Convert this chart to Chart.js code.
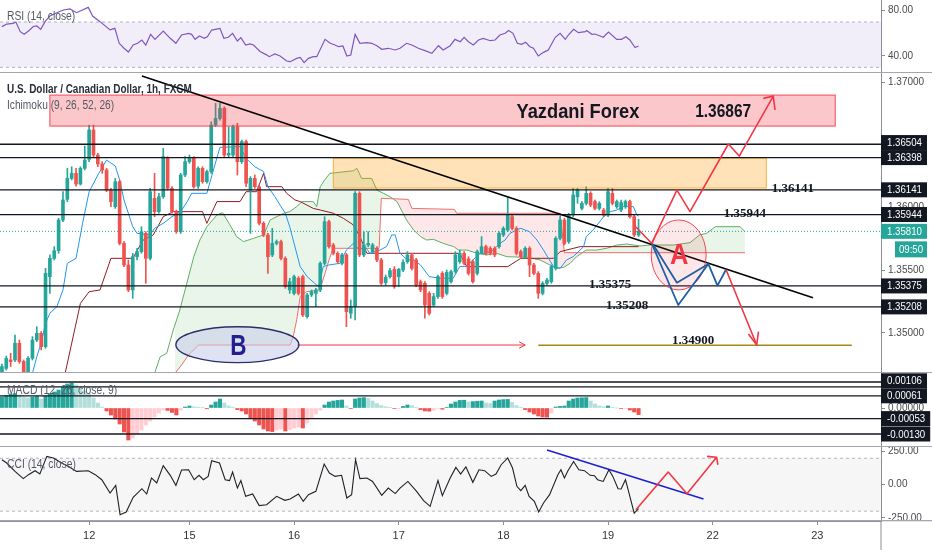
<!DOCTYPE html>
<html>
<head>
<meta charset="utf-8">
<title>USDCAD 1h</title>
<script src="https://cdn.jsdelivr.net/npm/chart.js@4.4.1/dist/chart.umd.min.js"></script>
<style>
  html, body { margin: 0; padding: 0; background: #ffffff; }
  #wrap { position: relative; width: 932px; height: 550px; overflow: hidden; }
  #wrap canvas { position: absolute; left: 0; }
</style>
</head>
<body>
<div id="wrap">
  <canvas id="rsiChart" width="932" height="73" style="top:0px"></canvas>
  <canvas id="mainChart" width="932" height="300" style="top:73px"></canvas>
  <canvas id="macdChart" width="932" height="74" style="top:373px"></canvas>
  <canvas id="cciChart" width="932" height="103" style="top:447px"></canvas>
</div>
<script>
// time axis: candle index of each day start
const dayIdx = [20, 43, 67, 91, 115, 139, 163, 187];
const dayLabels = ['12', '15', '16', '17', '18', '19', '22', '23'];

// right axis ticks per pane
const rsiTicks = [40, 80];
const priceTicks = [1.35, 1.355, 1.36, 1.365, 1.37];
const macdTicks = [0];
const cciTicks = [-250, 0, 250];

// 1h candles
const opens = [
  1.34692, 1.34718, 1.34785, 1.34785, 1.34918, 1.34772, 1.34692, 1.34798, 1.34944, 1.34997,
  1.34891, 1.35449, 1.35595, 1.35656, 1.35900, 1.36065, 1.36232, 1.36272, 1.36187, 1.36312,
  1.36384, 1.36618, 1.36418, 1.36347, 1.36299, 1.36139, 1.36007, 1.36206, 1.35714, 1.35542,
  1.35343, 1.35608, 1.35648, 1.35794, 1.35595, 1.36073, 1.35967, 1.36086, 1.36392, 1.36153,
  1.35967, 1.35807, 1.36259, 1.36365, 1.36392, 1.36171, 1.36312, 1.36206, 1.36286, 1.36657,
  1.36710, 1.36790, 1.36418, 1.36418, 1.36644, 1.36365, 1.36525, 1.36139, 1.36232, 1.36166,
  1.35874, 1.35781, 1.35622, 1.35714, 1.35728, 1.35595, 1.35343, 1.35316, 1.35436, 1.35449,
  1.35130, 1.35303, 1.35316, 1.35343, 1.35555, 1.35887, 1.35701, 1.35635, 1.35555, 1.35622,
  1.35157, 1.35210, 1.36113, 1.35622, 1.35701, 1.35648, 1.35675, 1.35582, 1.35401, 1.35449,
  1.35507, 1.35449, 1.35502, 1.35568, 1.35622, 1.35582, 1.35409, 1.35396, 1.35316, 1.35223,
  1.35290, 1.35475, 1.35316, 1.35409, 1.35489, 1.35568, 1.35635, 1.35590, 1.35568, 1.35475,
  1.35640, 1.35688, 1.35675, 1.35675, 1.35688, 1.35781, 1.35821, 1.35927, 1.35834, 1.35648,
  1.35608, 1.35675, 1.35542, 1.35475, 1.35316, 1.35396, 1.35409, 1.35515, 1.35754, 1.35900,
  1.35728, 1.35940, 1.36086, 1.35993, 1.36033, 1.36113, 1.36047, 1.35993, 1.35980, 1.35940,
  1.36113, 1.36007, 1.35980, 1.36007, 1.36047, 1.35927, 1.35781
];
const highs = [
  1.34753, 1.34817, 1.34838, 1.34984, 1.34944, 1.34785, 1.34811, 1.34971, 1.35050, 1.35011,
  1.35515, 1.35622, 1.35688, 1.35914, 1.36126, 1.36312, 1.36325, 1.36312, 1.36325, 1.36490,
  1.36657, 1.36657, 1.36432, 1.36365, 1.36312, 1.36153, 1.36232, 1.36219, 1.35728, 1.35582,
  1.35635, 1.35675, 1.35847, 1.35807, 1.36153, 1.36272, 1.36113, 1.36471, 1.36405, 1.36166,
  1.35980, 1.36272, 1.36405, 1.36418, 1.36405, 1.36325, 1.36325, 1.36299, 1.36684, 1.36830,
  1.36830, 1.36803, 1.36644, 1.36657, 1.36671, 1.36538, 1.36538, 1.36246, 1.36259, 1.36179,
  1.35887, 1.35794, 1.35834, 1.35741, 1.35741, 1.35608, 1.35436, 1.35462, 1.35449, 1.35462,
  1.35316, 1.35343, 1.35356, 1.35568, 1.35927, 1.35900, 1.35714, 1.35648, 1.35635, 1.35635,
  1.35263, 1.36126, 1.36126, 1.35807, 1.35807, 1.35714, 1.35688, 1.35595, 1.35462, 1.35515,
  1.35529, 1.35515, 1.35582, 1.35648, 1.35635, 1.35595, 1.35422, 1.35409, 1.35329, 1.35316,
  1.35462, 1.35489, 1.35502, 1.35502, 1.35648, 1.35661, 1.35648, 1.35608, 1.35582, 1.35661,
  1.35768, 1.35701, 1.35688, 1.35688, 1.35807, 1.35847, 1.36086, 1.35940, 1.35847, 1.35661,
  1.35688, 1.35688, 1.35555, 1.35489, 1.35409, 1.35436, 1.35542, 1.35768, 1.35927, 1.35914,
  1.35954, 1.36153, 1.36153, 1.36047, 1.36166, 1.36126, 1.36060, 1.36047, 1.35993, 1.36153,
  1.36153, 1.36060, 1.36060, 1.36060, 1.36060, 1.35940, 1.35906
];
const lows = [
  1.34679, 1.34705, 1.34732, 1.34772, 1.34758, 1.34679, 1.34679, 1.34785, 1.34931, 1.34865,
  1.34878, 1.35316, 1.35582, 1.35635, 1.35887, 1.36047, 1.36219, 1.36171, 1.36179, 1.36299,
  1.36365, 1.36405, 1.36325, 1.36272, 1.36126, 1.36007, 1.35993, 1.35701, 1.35529, 1.35329,
  1.35276, 1.35582, 1.35635, 1.35396, 1.35582, 1.35927, 1.35954, 1.36073, 1.36139, 1.35954,
  1.35794, 1.35794, 1.36246, 1.36352, 1.36153, 1.36153, 1.36193, 1.36193, 1.36272, 1.36644,
  1.36697, 1.36405, 1.36405, 1.36405, 1.36259, 1.36352, 1.36166, 1.35794, 1.36153, 1.35861,
  1.35768, 1.35475, 1.35608, 1.35701, 1.35582, 1.35356, 1.35316, 1.35303, 1.35303, 1.35130,
  1.35117, 1.35290, 1.35210, 1.35329, 1.35542, 1.35675, 1.35622, 1.35555, 1.35542, 1.35050,
  1.35117, 1.35104, 1.35608, 1.35608, 1.35688, 1.35635, 1.35568, 1.35382, 1.35382, 1.35436,
  1.35356, 1.35369, 1.35489, 1.35555, 1.35502, 1.35369, 1.35329, 1.35117, 1.35143, 1.35210,
  1.35276, 1.35276, 1.35303, 1.35396, 1.35475, 1.35555, 1.35542, 1.35462, 1.35396, 1.35462,
  1.35630, 1.35622, 1.35622, 1.35608, 1.35675, 1.35768, 1.35807, 1.35821, 1.35622, 1.35595,
  1.35595, 1.35449, 1.35462, 1.35276, 1.35303, 1.35382, 1.35396, 1.35502, 1.35741, 1.35701,
  1.35714, 1.35927, 1.36033, 1.35980, 1.36020, 1.36007, 1.35980, 1.35980, 1.35927, 1.35927,
  1.36020, 1.35993, 1.35967, 1.35993, 1.35914, 1.35768, 1.35768
];
const closes = [
  1.34732, 1.34798, 1.34772, 1.34918, 1.34772, 1.34692, 1.34798, 1.34944, 1.34997, 1.34891,
  1.35475, 1.35595, 1.35656, 1.35900, 1.36060, 1.36232, 1.36272, 1.36187, 1.36312, 1.36378,
  1.36618, 1.36418, 1.36347, 1.36299, 1.36139, 1.36047, 1.36206, 1.35714, 1.35542, 1.35343,
  1.35608, 1.35648, 1.35807, 1.35595, 1.36126, 1.35967, 1.36086, 1.36405, 1.36153, 1.35967,
  1.35807, 1.36259, 1.36365, 1.36392, 1.36166, 1.36312, 1.36206, 1.36286, 1.36657, 1.36710,
  1.36790, 1.36418, 1.36432, 1.36644, 1.36365, 1.36525, 1.36193, 1.36232, 1.36166, 1.35874,
  1.35781, 1.35608, 1.35714, 1.35728, 1.35595, 1.35369, 1.35409, 1.35449, 1.35316, 1.35143,
  1.35303, 1.35329, 1.35343, 1.35555, 1.35887, 1.35688, 1.35635, 1.35568, 1.35622, 1.35170,
  1.35210, 1.36113, 1.35622, 1.35701, 1.35714, 1.35701, 1.35582, 1.35396, 1.35444, 1.35497,
  1.35369, 1.35507, 1.35563, 1.35622, 1.35515, 1.35382, 1.35343, 1.35223, 1.35157, 1.35290,
  1.35449, 1.35290, 1.35483, 1.35489, 1.35622, 1.35635, 1.35555, 1.35475, 1.35409, 1.35648,
  1.35688, 1.35635, 1.35635, 1.35622, 1.35794, 1.35834, 1.35940, 1.35834, 1.35635, 1.35608,
  1.35675, 1.35542, 1.35475, 1.35316, 1.35396, 1.35422, 1.35529, 1.35754, 1.35900, 1.35714,
  1.35940, 1.36100, 1.36139, 1.36033, 1.36113, 1.36020, 1.35993, 1.36033, 1.35940, 1.36126,
  1.36033, 1.36047, 1.36039, 1.36047, 1.35927, 1.35781, 1.35810
];

// Ichimoku (9, 26, 52, 26) as [candle index, price]
const tenkanPts = [
  [7, 1.34679], [8, 1.34811], [9, 1.34918], [10, 1.35077], [11, 1.35157], [12.6, 1.35210], [14, 1.35343],
  [15, 1.35555], [17, 1.35595], [18.5, 1.35874], [20, 1.36126], [22, 1.36259], [24, 1.36378], [26, 1.36331],
  [27, 1.36219], [28, 1.36060], [30, 1.35847], [31, 1.35794], [34, 1.35781], [35, 1.35834], [37, 1.35874],
  [39, 1.35927], [41, 1.35967], [42.5, 1.36047], [43.5, 1.36113], [47, 1.36113], [48.5, 1.36299], [50, 1.36479],
  [54.6, 1.36485], [56, 1.36392], [58, 1.36325], [60, 1.36286], [61, 1.36166], [62.6, 1.36086], [64, 1.36007],
  [65, 1.35954], [66, 1.35847], [67, 1.35714], [68.4, 1.35529], [70, 1.35449], [72.6, 1.35369], [73.7, 1.35529],
  [75, 1.35542], [77.5, 1.35555], [79, 1.35661], [80.6, 1.35714], [82, 1.35661], [83.3, 1.35688], [84.4, 1.35635],
  [86.7, 1.35661], [88.2, 1.35688], [89.4, 1.35781], [90.2, 1.35781], [91.3, 1.35635], [93, 1.35582], [94.4, 1.35582],
  [96, 1.35542], [98, 1.35449], [100.5, 1.35436], [103.5, 1.35436], [105, 1.35529], [106.6, 1.35529], [108, 1.35582],
  [109.7, 1.35635], [111.2, 1.35635], [112.7, 1.35661], [114.2, 1.35714], [115.4, 1.35741], [116.5, 1.35794],
  [118, 1.35821], [119, 1.35834], [121, 1.35807], [122.7, 1.35741], [124.2, 1.35661], [126.5, 1.35529], [128, 1.35515],
  [129.5, 1.35582], [131, 1.35608], [133.4, 1.35688], [134, 1.35768], [135.6, 1.35821], [138, 1.35927], [139.5, 1.35967],
  [141, 1.35980], [142.5, 1.36007], [144.8, 1.36007], [145.6, 1.35940], [146, 1.35932]
];
const kijunPts = [
  [14.5, 1.34679], [18, 1.35236], [20, 1.35329], [22.5, 1.35343], [25, 1.35595], [30, 1.35595], [32.4, 1.35741],
  [34.7, 1.35781], [37, 1.35927], [39.3, 1.35967], [46, 1.35967], [47, 1.35874], [49.3, 1.36047], [54.6, 1.36047],
  [56, 1.36126], [58.4, 1.36126], [60, 1.36272], [60.7, 1.36166], [64.2, 1.36166], [65.3, 1.36113], [67.2, 1.36060],
  [68.4, 1.36047], [71.4, 1.35993], [73, 1.35980], [76, 1.35954], [78.3, 1.35914], [80.6, 1.35861], [82.1, 1.35768],
  [83.7, 1.35635], [105, 1.35635], [106.6, 1.35529], [116, 1.35529], [119, 1.35595], [126.5, 1.35595], [128, 1.35648],
  [132.6, 1.35688], [146, 1.35688]
];
const spanAPts = [
  [34.5, 1.34626], [36.3, 1.34811], [37.8, 1.34838], [39.3, 1.35024], [40.8, 1.35183], [42.4, 1.35396], [44, 1.35608],
  [45.4, 1.35741], [47, 1.35847], [49.3, 1.35940], [50.6, 1.35959], [52.3, 1.35861], [53.8, 1.35768], [55.4, 1.35728],
  [57.7, 1.35754], [60, 1.35781], [61.5, 1.35900], [64.6, 1.35954], [66, 1.35967], [67.6, 1.36007], [68.8, 1.36047],
  [71.4, 1.36047], [72.2, 1.36007], [73, 1.36166], [74, 1.36219], [75.2, 1.36272], [80.6, 1.36293], [81.4, 1.36312],
  [82.5, 1.36232], [84.8, 1.36232], [86, 1.36139], [87.5, 1.36113], [89, 1.36086], [90.6, 1.36047], [92.8, 1.35900],
  [94.4, 1.35821], [96, 1.35768], [97.4, 1.35741], [99, 1.35746], [101.2, 1.35714], [103.6, 1.35688], [104.7, 1.35661],
  [106.6, 1.35661], [109, 1.35635], [111.2, 1.35622], [113.5, 1.35635], [115.8, 1.35608], [120.4, 1.35603],
  [123.4, 1.35582], [125.7, 1.35542], [127.2, 1.35515], [128.8, 1.35523], [130.3, 1.35555], [131.8, 1.35608],
  [134, 1.35661], [136.4, 1.35661], [138.7, 1.35675], [141, 1.35701], [143.3, 1.35709], [146.4, 1.35693],
  [148.6, 1.35701], [154, 1.35701], [157.8, 1.35720], [160, 1.35781], [161.6, 1.35794], [163.6, 1.35847],
  [169.3, 1.35847], [170.4, 1.35807]
];
const spanBPts = [
  [39.7, 1.34679], [41.2, 1.34745], [42.8, 1.34825], [45.1, 1.34904], [66.1, 1.34904], [66.8, 1.34971], [67.6, 1.35104],
  [68.4, 1.35290], [69.9, 1.35329], [72.9, 1.35343], [74.1, 1.35475], [75, 1.35582], [76, 1.35675], [86.5, 1.35675],
  [87, 1.36073], [93.2, 1.36065], [94, 1.35993], [103.8, 1.35985], [104.3, 1.35954], [128, 1.35954], [129, 1.35640],
  [170.4, 1.35640]
];

// RSI (14, close) as [candle index, value]
const rsiPts = [
  [0, 65.9], [1.1, 68.2], [2.6, 68.8], [3.2, 70], [4.2, 61.5], [5.1, 59.1], [6.1, 62], [7.2, 66], [8, 66.5], [8.9, 63.5],
  [9.9, 70.3], [11, 75.3], [12.6, 78.2], [14.1, 80.6], [15.6, 81.5], [17.1, 78.2], [19.8, 82.9], [20.8, 75.3], [22.5, 70.3],
  [24.8, 63], [25.9, 64.4], [26.9, 51.2], [28, 46.8], [29, 43.5], [30.1, 49.7], [31.1, 51.2], [32.1, 54.1], [33, 49.7],
  [34.1, 59.1], [35.1, 54.7], [37, 62], [38.6, 55.6], [39.9, 51.2], [41.2, 58.5], [42.8, 60], [43.5, 59.1], [44.3, 54.7],
  [45.3, 57.6], [46.4, 55.6], [47.1, 57], [48.1, 62.9], [50, 64.4], [50.9, 55.6], [51.9, 56.5], [52.9, 60], [54, 53.2],
  [54.8, 56.2], [55.9, 49.7], [56.9, 50.6], [57.7, 49.7], [59.2, 44], [60.7, 41], [61.3, 39.4], [62.6, 41.8], [63.8, 40],
  [65.3, 35.6], [66.1, 35], [67.6, 37.9], [68.4, 38.8], [69.3, 34.1], [70.3, 37.9], [71.4, 39.4], [72.2, 39.4],
  [74.1, 54.7], [75.3, 51.2], [76.4, 49.7], [77.2, 48.2], [78.2, 48.8], [79.1, 40], [80, 40.9], [81, 59.1], [82.1, 51.2],
  [83.7, 51.8], [84.8, 51.2], [86, 49.1], [87.1, 45.9], [88.6, 46.8], [90.2, 45.3], [91.3, 46.8], [92.8, 51.2], [94, 49.7],
  [95.5, 46.8], [97, 44.7], [98.6, 42.4], [100.1, 49.1], [101.2, 45.3], [102.8, 49.1], [103.9, 54.7], [105.1, 52.6],
  [106, 56.5], [107, 52.6], [108.1, 49.7], [109.3, 54.1], [110.4, 55.6], [112, 53.5], [113.1, 54.1], [114.2, 58.5],
  [115.4, 60], [116.2, 62.4], [117.2, 60], [118.2, 51.2], [119.2, 50.3], [120.1, 52.1], [121.1, 48.2], [121.9, 46.8],
  [123, 40], [124.2, 43.2], [125.3, 45.3], [126.9, 56.5], [128, 60], [129.2, 54.7], [129.9, 58.5], [131.1, 63.5],
  [132.2, 60.6], [133.8, 61.5], [134.1, 62.4], [135.3, 59.1], [136, 59.4], [137.2, 57.6], [137.9, 56.5], [139.1, 61.2],
  [141, 54.7], [142.1, 54.7], [143.1, 57], [144, 54.1], [145.2, 47.4], [146, 48.8]
];
const rsiBand = [30, 70];

// MACD (12, 26, close, 9) histogram, one value per candle
const macdHist = [
  0.00055, 0.00062, 0.00070, 0.00072, 0.00065, 0.00055, 0.00050, 0.00055, 0.00058, 0.00045,
  0.00060, 0.00072, 0.00080, 0.00090, 0.00105, 0.00120, 0.00125, 0.00115, 0.00100, 0.00085,
  0.00070, 0.00050, 0.00025, 0.00005, -0.00015, -0.00035, -0.00055, -0.00080, -0.00120, -0.00160,
  -0.00150, -0.00130, -0.00110, -0.00085, -0.00065, -0.00045, -0.00025, -0.00010, -0.00012, -0.00022,
  -0.00035, -0.00010, 0.00005, 0.00010, 0.00006, 0.00004, 0.00003, -0.00004, 0.00015, 0.00030,
  0.00045, 0.00025, 0.00010, 0.00003, -0.00008, -0.00015, -0.00030, -0.00050, -0.00065, -0.00085,
  -0.00105, -0.00115, -0.00118, -0.00110, -0.00105, -0.00115, -0.00108, -0.00100, -0.00095, -0.00100,
  -0.00075, -0.00050, -0.00030, -0.00010, 0.00015, 0.00030, 0.00035, 0.00038, 0.00040, 0.00010,
  -0.00003, 0.00045, 0.00050, 0.00052, 0.00048, 0.00035, 0.00022, 0.00012, 0.00006, 0.00003,
  -0.00003, -0.00001, 0.00008, 0.00015, 0.00012, 0.00003, -0.00008, -0.00015, -0.00016, -0.00012,
  -0.00003, -0.00006, 0.00002, 0.00020, 0.00030, 0.00038, 0.00039, 0.00030, 0.00032, 0.00034,
  0.00035, 0.00025, 0.00022, 0.00035, 0.00040, 0.00042, 0.00043, 0.00028, 0.00012, 0.00003,
  -0.00008, -0.00020, -0.00030, -0.00040, -0.00045, -0.00046, -0.00025, 0.00005, 0.00008, 0.00010,
  0.00035, 0.00045, 0.00050, 0.00051, 0.00052, 0.00035, 0.00020, 0.00010, 0.00006, 0.00010,
  0.00002, 0.00000, -0.00003, -0.00002, -0.00010, -0.00020, -0.00033
];
const macdLevels = [0.0013, 0.00106, 0.00061, -0.00053, -0.0013];
const macdTagged = [0.00106, 0.00061, -0.00053, -0.0013];

// CCI (14, close) as [candle index, value]
const cciPts = [
  [0, 189], [1.1, 164], [3, 101], [4.9, 46], [6.1, 76], [7.6, 106], [8.7, 81], [10.3, 214], [11.8, 202], [13.7, 164],
  [15.2, 139], [17.1, 101], [19.8, 106], [21.4, 76], [22.9, 38], [24.8, -63], [26.1, -5], [27.1, -226], [28.5, -206],
  [30.1, -95], [32.1, -30], [33.2, -70], [34.3, 51], [35.5, 13], [37, 144], [38.6, 71], [39.9, -5], [41.2, 111],
  [42.8, 113], [44.1, 38], [45.2, 71], [46.2, 38], [47.3, 63], [48.1, 181], [49.9, 164], [51.2, 38], [52.2, 31],
  [52.9, 96], [54, -25], [54.8, 31], [55.9, -88], [57.5, -70], [59, -158], [60.7, -151], [63, -88], [64.9, -118],
  [66.1, -108], [68, -70], [69.1, -126], [70.3, -75], [72, -50], [73.9, 156], [75.1, 88], [76.4, 63], [77.9, 71],
  [79.1, -100], [80.2, -75], [81.1, 189], [82.1, 46], [83.7, 51], [85, 25], [87.1, -80], [88.6, -25], [90.2, -67],
  [91.3, -25], [93.1, 25], [95.1, -50], [96.7, -120], [98.2, -163], [100, 33], [101, -83], [102.8, 51], [104.1, 131],
  [105.2, 81], [106.4, 135], [108, 18], [109.4, 113], [110.7, 106], [112.2, 63], [113.3, 81], [114.5, 151], [116, 202],
  [117.1, 126], [118.1, -12], [119, -45], [120, -5], [120.9, -88], [122.1, -126], [123.1, -206], [124.2, -138],
  [125.6, -75], [127.5, 76], [128.2, 113], [129, 51], [129.8, 106], [131.1, 176], [132.3, 113], [133.6, 106],
  [134.9, 71], [135.9, 68], [136.6, 38], [137.9, 25], [139.2, 113], [140.1, 63], [141.3, -30], [142, -32], [143, 38],
  [143.9, -75], [145, -214], [146, -180]
];
const cciBand = [-200, 200];

// drawings on the price pane, [candle index, price]
const levelPrices = [1.36504, 1.36398, 1.36141, 1.35944, 1.35375, 1.35208];
const lastPrice = 1.35810;
const countdown = '09:50';
const redBox = [11.0, 1.36896, 191.1, 1.36649];
const orangeBox = [76.0, 1.36394, 175.3, 1.36155];
const trendLine = [[32.1, 1.37048], [186.0, 1.35281]];
const supportLine = [[123.0, 1.34902], [194.9, 1.34902]];
const arrowB = [[67.7, 1.34904], [120.0, 1.34904]];
const arrowBHead = [[118.6, 1.34930], [120.0, 1.34904], [118.6, 1.34878]];
const upPath = [[145.4, 1.35845], [149.0, 1.35715], [154.8, 1.36139], [157.8, 1.35967], [166.6, 1.36506], [169.1, 1.36410], [176.9, 1.36888]];
const upHead = [[174.6, 1.36870], [176.9, 1.36888], [177.3, 1.36777]];
const downPath = [[166.1, 1.35502], [173.1, 1.34904]];
const downHead = [[171.2, 1.34992], [173.1, 1.34904], [173.5, 1.35010]];
const bluePathOuter = [[149.0, 1.35715], [155.1, 1.35223], [162.0, 1.35550], [164.1, 1.35377], [166.1, 1.35508]];
const bluePathInner = [[149.4, 1.35701], [154.8, 1.35401], [162.0, 1.35550]];
const ellipseA = [155.2, 1.35622, 6.3, 0.00279];
const ellipseB = [54.0, 1.34907, 14.1, 0.00143];
const bannerText = 'Yazdani Forex';
const bannerPos = [132.1, 1.36761];
const targetText = '1.36867';
const targetPos = [165.4, 1.36761];
const noteText = ['1.36141', '1.35944', '1.35375', '1.35208', '1.34900'];
const notePos = [[181.4, 1.36151], [170.4, 1.35952], [139.5, 1.35382], [143.4, 1.35217], [158.5, 1.34936]];
const markA = [155.3, 1.35614];
const markB = [54.2, 1.34888];

// drawings on the CCI pane, [candle index, value]
const cciTrend = [[125.0, 262], [160.9, -108]];
const cciZig = [[145.4, -189], [152.8, 96], [157.1, -68], [163.9, 207]];
const cciHead = [[161.7, 214], [163.9, 207], [164.2, 151]];

const mainTitle = 'U.S. Dollar / Canadian Dollar, 1h, FXCM';
const ichiTitle = 'Ichimoku (9, 26, 52, 26)';
const rsiTitle = 'RSI (14, close)';
const macdTitle = 'MACD (12, 26, close, 9)';
const cciTitle = 'CCI (14, close)';

// ---------------------------------------------------------------

const X_MIN = -0.44, X_MAX = 201.6, AXIS_W = 51;
const UI_FONT = "'Liberation Sans', Arial, sans-serif";
const UP = '#26a69a', DOWN = '#ef5350';
const AXIS_COLOR = '#8a8d96';

Chart.defaults.font.family = UI_FONT;
Chart.defaults.font.size = 10;
Chart.defaults.color = '#4a4a4a';

const toPts = arr => arr.map(p => ({ x: p[0], y: p[1] }));

function baseOptions() {
  return {
    responsive: false, animation: false, events: [],
    layout: { padding: 0 },
    plugins: { legend: { display: false }, tooltip: { enabled: false } }
  };
}

function hiddenX() {
  return { type: 'linear', min: X_MIN, max: X_MAX, offset: false, display: false };
}

function rightY(min, max, tickValues, digits) {
  return {
    position: 'right', min: min, max: max,
    afterBuildTicks: s => { s.ticks = tickValues.map(v => ({ value: v })); },
    afterFit: s => { s.width = AXIS_W; s.paddingTop = 0; s.paddingBottom = 0; },
    grid: { drawOnChartArea: false, tickLength: 4, color: AXIS_COLOR },
    border: { color: AXIS_COLOR },
    ticks: { padding: 3, autoSkip: false, callback: v => v.toFixed(digits) }
  };
}

function xy(chart, i, v) {
  return [chart.scales.x.getPixelForValue(i), chart.scales.y.getPixelForValue(v)];
}

function path(chart, pts, color, width, dash) {
  const ctx = chart.ctx;
  ctx.beginPath();
  pts.forEach((p, k) => {
    const q = xy(chart, p[0], p[1]);
    if (k) ctx.lineTo(q[0], q[1]); else ctx.moveTo(q[0], q[1]);
  });
  ctx.setLineDash(dash || []);
  ctx.lineJoin = 'round';
  ctx.strokeStyle = color;
  ctx.lineWidth = width;
  ctx.stroke();
  ctx.setLineDash([]);
}

function hLine(chart, v, color, width, dash) {
  const { ctx, chartArea: a } = chart;
  const y = chart.scales.y.getPixelForValue(v);
  ctx.beginPath();
  ctx.moveTo(a.left, y);
  ctx.lineTo(a.right, y);
  ctx.setLineDash(dash || []);
  ctx.strokeStyle = color;
  ctx.lineWidth = width;
  ctx.stroke();
  ctx.setLineDash([]);
}

function box(chart, b, fill, stroke) {
  const ctx = chart.ctx;
  const p = xy(chart, b[0], b[1]), q = xy(chart, b[2], b[3]);
  ctx.fillStyle = fill;
  ctx.fillRect(p[0], p[1], q[0] - p[0], q[1] - p[1]);
  ctx.strokeStyle = stroke;
  ctx.lineWidth = 1;
  ctx.strokeRect(p[0], p[1], q[0] - p[0], q[1] - p[1]);
}

function ellipse(chart, e, fill, stroke, width) {
  const ctx = chart.ctx;
  const c = xy(chart, e[0], e[1]);
  const rx = Math.abs(chart.scales.x.getPixelForValue(e[0] + e[2]) - c[0]);
  const ry = Math.abs(chart.scales.y.getPixelForValue(e[1] + e[3]) - c[1]);
  ctx.beginPath();
  ctx.ellipse(c[0], c[1], rx, ry, 0, 0, Math.PI * 2);
  ctx.fillStyle = fill;
  ctx.fill();
  ctx.strokeStyle = stroke;
  ctx.lineWidth = width;
  ctx.stroke();
}

// text squeezed horizontally, the screenshot is a little narrower than tall
function text(ctx, str, x, y, font, color, align, sx) {
  ctx.save();
  ctx.font = font;
  ctx.fillStyle = color;
  ctx.textAlign = align;
  ctx.textBaseline = 'middle';
  ctx.translate(x, y);
  ctx.scale(sx, 1);
  ctx.fillText(str, 0, 0);
  ctx.restore();
}

function dataText(chart, pos, str, font, color, sx) {
  const q = xy(chart, pos[0], pos[1]);
  text(chart.ctx, str, q[0], q[1], font, color, 'center', sx);
}

// price tags on the right axis; pushed upward when they would overlap
function axisTags(chart, tags) {
  const { ctx, chartArea: a } = chart;
  const h = 15;
  const list = tags.map(t => ({ text: t[0], bg: t[2], y: chart.scales.y.getPixelForValue(t[1]) }))
    .sort((m, n) => n.y - m.y);
  for (let k = 1; k < list.length; k++) {
    if (list[k - 1].y - list[k].y < h) list[k].y = list[k - 1].y - h;
  }
  ctx.save();
  ctx.font = '11px ' + UI_FONT;
  list.forEach(t => {
    const w = Math.max(46, ctx.measureText(t.text).width * 0.88 + 11);
    ctx.fillStyle = t.bg;
    ctx.fillRect(a.right, t.y - h / 2, w, h);
    text(ctx, t.text, a.right + 6, t.y + 0.5, '11px ' + UI_FONT, '#ffffff', 'left', 0.88);
  });
  ctx.restore();
}

function separator(chart) {
  const { ctx, chartArea: a } = chart;
  ctx.fillStyle = '#a3a6af';
  ctx.fillRect(0, a.bottom - 1, chart.width, 1.3);
}

function clipArea(chart) {
  const { ctx, chartArea: a } = chart;
  ctx.beginPath();
  ctx.rect(a.left, a.top, a.right - a.left, a.bottom - a.top);
  ctx.clip();
}

function paneTitle(chart, lines) {
  lines.forEach(l => text(chart.ctx, l[0], 7, l[1], l[2], l[3], 'left', l[4]));
}

function bandPlugin(id, band, fill) {
  return {
    id: id,
    beforeDatasetsDraw(chart) {
      const { ctx, chartArea: a } = chart;
      const top = chart.scales.y.getPixelForValue(band[1]);
      const bot = chart.scales.y.getPixelForValue(band[0]);
      ctx.save();
      ctx.fillStyle = fill;
      ctx.fillRect(a.left, top, a.right - a.left, bot - top);
      hLine(chart, band[1], 'rgba(120,123,134,0.55)', 1, [3, 3]);
      hLine(chart, band[0], 'rgba(120,123,134,0.55)', 1, [3, 3]);
      ctx.restore();
    }
  };
}

// ---------------- RSI pane ----------------
new Chart(document.getElementById('rsiChart'), {
  type: 'line',
  data: {
    datasets: [{
      data: toPts(rsiPts), borderColor: '#7e57c2', borderWidth: 1.2, pointRadius: 0, tension: 0
    }]
  },
  options: Object.assign(baseOptions(), {
    scales: { x: hiddenX(), y: rightY(25.0, 89.4, rsiTicks, 2) }
  }),
  plugins: [bandPlugin('rsiBand', rsiBand, 'rgba(126,87,194,0.1)'), {
    id: 'rsiDecor',
    afterDraw(chart) {
      paneTitle(chart, [[rsiTitle, 17, '12px ' + UI_FONT, '#555a66', 0.86]]);
      separator(chart);
    }
  }]
});

// ---------------- price pane ----------------
const candleIdx = opens.map((_, i) => i);
const candleColor = ctx => (closes[ctx.dataIndex] >= opens[ctx.dataIndex] ? UP : DOWN);

new Chart(document.getElementById('mainChart'), {
  type: 'bar',
  data: {
    datasets: [
      {
        type: 'line', data: toPts(spanAPts), borderColor: '#5fae62', borderWidth: 1, pointRadius: 0, tension: 0,
        fill: { target: 1, above: 'rgba(76,175,80,0.13)', below: 'rgba(242,54,69,0.12)' }, order: 6
      },
      { type: 'line', data: toPts(spanBPts), borderColor: '#ef6f6c', borderWidth: 1, pointRadius: 0, tension: 0, order: 5 },
      { type: 'line', data: toPts(kijunPts), borderColor: '#8f1d22', borderWidth: 1, pointRadius: 0, tension: 0, order: 4 },
      { type: 'line', data: toPts(tenkanPts), borderColor: '#2196f3', borderWidth: 1, pointRadius: 0, tension: 0, order: 3 },
      {
        type: 'bar', data: candleIdx.map(i => ({ x: i, y: [lows[i], highs[i]] })),
        backgroundColor: candleColor, barThickness: 1, grouped: false, order: 2
      },
      {
        type: 'bar', data: candleIdx.map(i => ({ x: i, y: [opens[i], closes[i]] })),
        backgroundColor: candleColor, barThickness: 3, grouped: false, minBarLength: 1, order: 1
      }
    ]
  },
  options: Object.assign(baseOptions(), {
    scales: { x: hiddenX(), y: rightY(1.34681, 1.37072, priceTicks, 5) }
  }),
  plugins: [{
    id: 'priceDecor',
    afterDatasetsDraw(chart) {
      const ctx = chart.ctx;
      ctx.save();
      clipArea(chart);
      box(chart, redBox, 'rgba(242,54,69,0.28)', 'rgba(242,54,69,0.9)');
      box(chart, orangeBox, 'rgba(255,152,0,0.28)', 'rgba(255,152,0,0.75)');
      levelPrices.forEach(v => hLine(chart, v, '#131722', 1.3));
      hLine(chart, lastPrice, UP, 1, [1, 2]);
      path(chart, supportLine, '#a08a14', 1.3);
      path(chart, arrowB, '#f23645', 1);
      path(chart, arrowBHead, '#f23645', 1);
      ellipse(chart, ellipseB, 'rgba(197,202,233,0.55)', '#2a2f6b', 1.4);
      path(chart, trendLine, '#000000', 1.6);
      ellipse(chart, ellipseA, 'rgba(242,54,69,0.12)', 'rgba(242,54,69,0.9)', 1);
      path(chart, bluePathOuter, '#1f5fa8', 1.8);
      path(chart, bluePathInner, '#1f5fa8', 1.8);
      path(chart, upPath, '#f23645', 1.6);
      path(chart, upHead, '#f23645', 1.6);
      path(chart, downPath, '#f23645', 1.6);
      path(chart, downHead, '#f23645', 1.6);
      dataText(chart, bannerPos, bannerText, "bold 21px 'Liberation Sans', Arial, sans-serif", '#131722', 0.87);
      dataText(chart, targetPos, targetText, "bold 18px 'Liberation Sans', Arial, sans-serif", '#131722', 0.86);
      noteText.forEach((t, k) => dataText(chart, notePos[k], t, "bold 13px 'Liberation Serif', serif", '#131722', 1));
      dataText(chart, markA, 'A', "bold 30px 'Liberation Sans', Arial, sans-serif", '#f23645', 0.85);
      dataText(chart, markB, 'B', "bold 30px 'Liberation Sans', Arial, sans-serif", '#231f8f', 0.75);
      ctx.restore();
    },
    afterDraw(chart) {
      const { ctx, chartArea: a } = chart;
      const tags = levelPrices.map(v => [v.toFixed(5), v, '#131722']);
      tags.push([lastPrice.toFixed(5), lastPrice, UP]);
      axisTags(chart, tags);
      const y = chart.scales.y.getPixelForValue(lastPrice) + 18;
      ctx.fillStyle = UP;
      ctx.fillRect(a.right + 14, y - 8, 32, 16);
      text(ctx, countdown, a.right + 30, y + 0.5, '11px ' + UI_FONT, '#ffffff', 'center', 0.88);
      paneTitle(chart, [
        [mainTitle, 17, 'bold 12px ' + UI_FONT, '#2a2e39', 0.83],
        [ichiTitle, 33, '12px ' + UI_FONT, '#555a66', 0.85]
      ]);
      separator(chart);
    }
  }]
});

// ---------------- MACD pane ----------------
const macdColor = ctx => {
  const i = ctx.dataIndex, v = macdHist[i], prev = i ? macdHist[i - 1] : v;
  if (v >= 0) return v >= prev ? '#26a69a' : '#b2dfdb';
  return v <= prev ? '#ef5350' : '#ffcdd2';
};

new Chart(document.getElementById('macdChart'), {
  type: 'bar',
  data: {
    datasets: [{
      data: macdHist.map((v, i) => ({ x: i, y: v })),
      backgroundColor: macdColor, barThickness: 3.4, grouped: false
    }]
  },
  options: Object.assign(baseOptions(), {
    scales: { x: hiddenX(), y: rightY(-0.00195, 0.00175, macdTicks, 5) }
  }),
  plugins: [{
    id: 'macdDecor',
    afterDatasetsDraw(chart) {
      chart.ctx.save();
      clipArea(chart);
      macdLevels.forEach(v => hLine(chart, v, '#131722', 1.3));
      chart.ctx.restore();
    },
    afterDraw(chart) {
      axisTags(chart, macdTagged.map(v => [v.toFixed(5), v, '#131722']));
      paneTitle(chart, [[macdTitle, 18, '12px ' + UI_FONT, '#555a66', 0.86]]);
      separator(chart);
    }
  }]
});

// ---------------- CCI pane + time axis ----------------
new Chart(document.getElementById('cciChart'), {
  type: 'line',
  data: {
    datasets: [{
      data: toPts(cciPts), borderColor: '#1e2026', borderWidth: 1.1, pointRadius: 0, tension: 0
    }]
  },
  options: Object.assign(baseOptions(), {
    scales: {
      x: {
        type: 'linear', min: X_MIN, max: X_MAX, offset: false, position: 'bottom',
        afterFit: s => { s.height = 29; s.paddingLeft = 0; s.paddingRight = 0; },
        afterBuildTicks: s => { s.ticks = dayIdx.map(v => ({ value: v })); },
        grid: { drawOnChartArea: false, tickLength: 4, color: AXIS_COLOR },
        border: { color: AXIS_COLOR },
        ticks: { autoSkip: false, maxRotation: 0, padding: 4, color: '#333333', font: { size: 11 }, callback: v => dayLabels[dayIdx.indexOf(v)] }
      },
      y: rightY(-274, 285, cciTicks, 2)
    }
  }),
  plugins: [bandPlugin('cciBand', cciBand, 'rgba(0,0,0,0.035)'), {
    id: 'cciDecor',
    afterDatasetsDraw(chart) {
      chart.ctx.save();
      clipArea(chart);
      path(chart, cciTrend, '#1f1fd1', 1.6);
      path(chart, cciZig, '#f23645', 1.6);
      path(chart, cciHead, '#f23645', 1.6);
      chart.ctx.restore();
    },
    afterDraw(chart) {
      const { ctx, chartArea: a } = chart;
      paneTitle(chart, [[cciTitle, 18, '12px ' + UI_FONT, '#555a66', 0.86]]);
      separator(chart);
      ctx.fillStyle = AXIS_COLOR;
      ctx.fillRect(a.right - 0.5, a.bottom, 1, chart.height - a.bottom);
    }
  }]
});
</script>
</body>
</html>
